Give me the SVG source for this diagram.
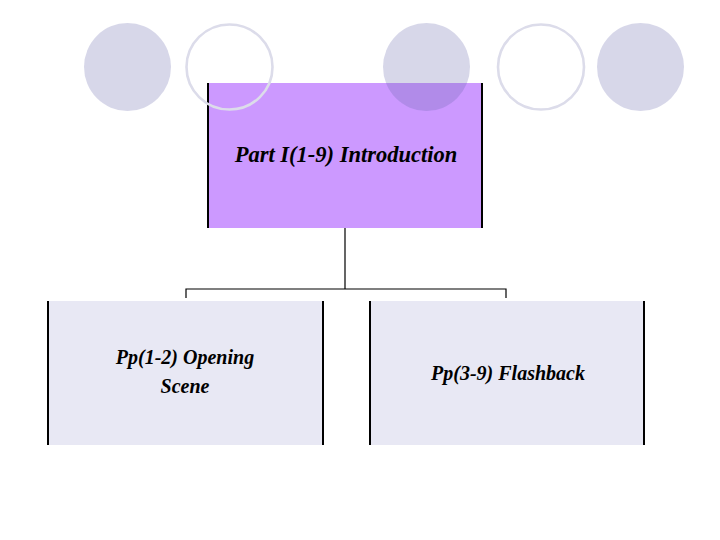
<svg xmlns="http://www.w3.org/2000/svg" width="720" height="540" viewBox="0 0 720 540">
<style>
.dot{fill:#6666aa;fill-opacity:0.26}
.ring{fill:none;stroke:#dcdcea;stroke-width:2.6}
.side{stroke:#000;stroke-width:2}
.conn{stroke:#000;stroke-width:1.2;fill:none}
.lbl{font-family:"Liberation Serif",serif;font-style:italic;font-weight:bold;fill:#000;text-anchor:middle}
</style>
<rect width="720" height="540" fill="#fff"/>
<g id="root">
<rect x="207" y="83" width="276" height="145" fill="#cc99ff"/>
<line class="side" x1="208" y1="83" x2="208" y2="228"/>
<line class="side" x1="482" y1="83" x2="482" y2="228"/>
<text class="lbl" x="346" y="162" font-size="22.5">Part I(1-9) Introduction</text>
</g>
<g id="opening">
<rect x="47" y="301" width="277" height="144" fill="#e8e8f4"/>
<line class="side" x1="48" y1="301" x2="48" y2="445"/>
<line class="side" x1="323" y1="301" x2="323" y2="445"/>
<text class="lbl" x="185" y="364" font-size="20">Pp(1-2) Opening</text>
<text class="lbl" x="185" y="393" font-size="20">Scene</text>
</g>
<g id="flashback">
<rect x="369" y="301" width="276" height="144" fill="#e8e8f4"/>
<line class="side" x1="370" y1="301" x2="370" y2="445"/>
<line class="side" x1="644" y1="301" x2="644" y2="445"/>
<text class="lbl" x="508" y="380" font-size="20">Pp(3-9) Flashback</text>
</g>
<g id="connectors">
<path class="conn" d="M345,228 V289 M186,298 V289 H506 V298"/>
</g>
<g id="decor">
<ellipse class="dot" cx="127.5" cy="67" rx="43.5" ry="44"/>
<ellipse class="ring" cx="229.5" cy="67" rx="43" ry="42.5"/>
<ellipse class="dot" cx="426.5" cy="67" rx="43.5" ry="44"/>
<ellipse class="ring" cx="541" cy="67" rx="43" ry="42.5"/>
<ellipse class="dot" cx="640.5" cy="67" rx="43.5" ry="44"/>
</g>
</svg>
